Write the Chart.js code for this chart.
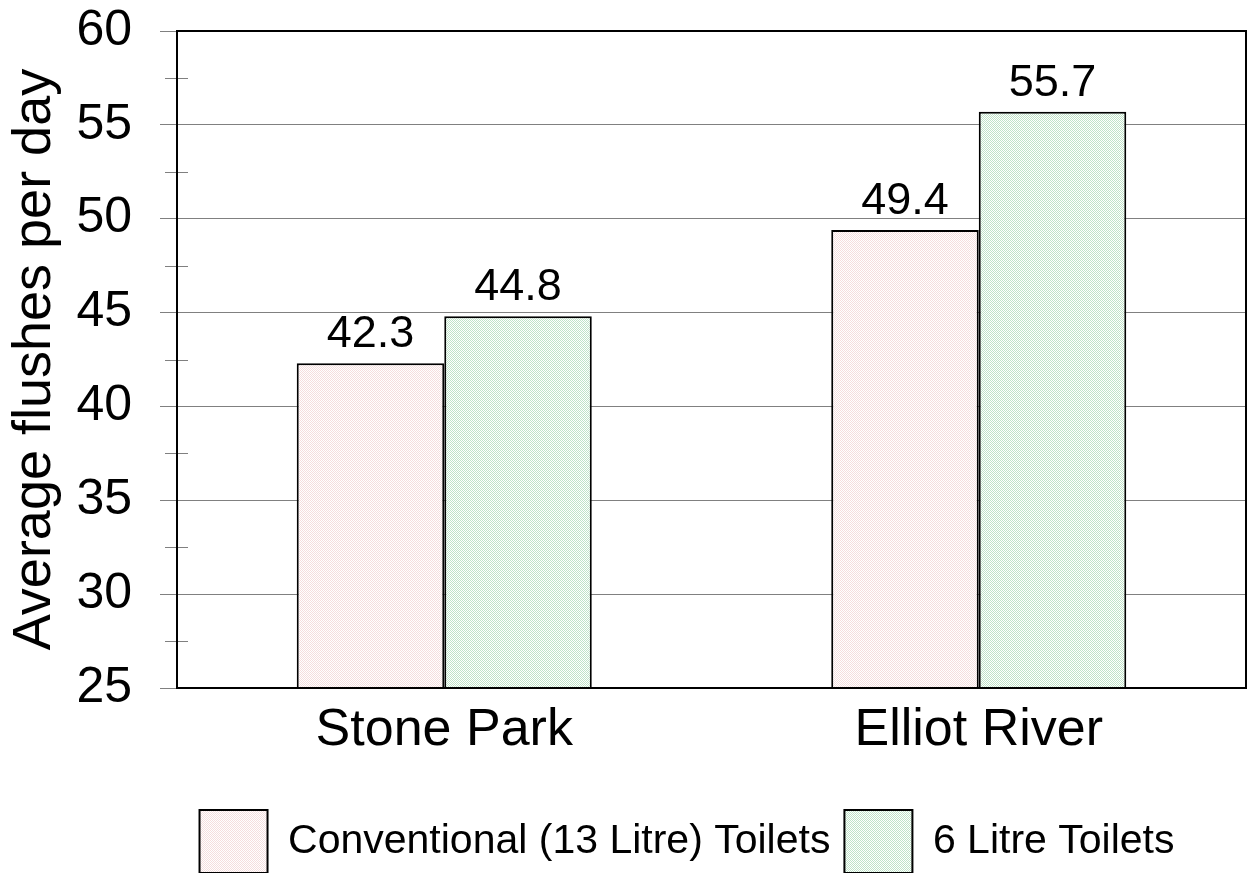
<!DOCTYPE html>
<html>
<head>
<meta charset="utf-8">
<script src="https://cdn.jsdelivr.net/npm/chart.js@4"></script>
<style>
  body { margin: 0; background: #fff; }
  canvas { display: block; }
</style>
</head>
<body>
<canvas id="flushChart" width="1249" height="873"></canvas>
<script>
// Average flushes per day, by site and toilet type
const sites = ["Stone Park", "Elliot River"];
const conventionalFlushes = [42.3, 49.4];
const sixLitreFlushes = [44.8, 55.7];
const seriesNames = ["Conventional (13 Litre) Toilets", "6 Litre Toilets"];

const fontFamily = "'Liberation Sans', Arial, sans-serif";

// small checker fill so the bars look stippled
function stipple(dot) {
    let tile = document.createElement("canvas");
    tile.width = 2;
    tile.height = 2;
    let g = tile.getContext("2d");
    g.fillStyle = "#ffffff";
    g.fillRect(0, 0, 2, 2);
    g.fillStyle = dot;
    g.fillRect(0, 0, 1, 1);
    g.fillRect(1, 1, 1, 1);
    return g.createPattern(tile, "repeat");
}

// value labels above each bar
const barValues = {
    id: "barValues",
    afterDatasetsDraw(chart) {
        const ctx = chart.ctx;
        ctx.save();
        ctx.font = "45px " + fontFamily;
        ctx.fillStyle = "#000";
        ctx.textAlign = "center";
        ctx.textBaseline = "alphabetic";
        chart.data.datasets.forEach((ds, i) => {
            chart.getDatasetMeta(i).data.forEach((bar, j) => {
                ctx.fillText(ds.data[j].toFixed(1), bar.x, bar.y - 16);
            });
        });
        ctx.restore();
    }
};

// frame round the plot, minor ticks across the value axis, legend nudge
const plotFrame = {
    id: "plotFrame",
    afterLayout(chart) {
        chart.legend.left += 64;
        chart.legend.right += 64;
    },
    afterDraw(chart) {
        const ctx = chart.ctx;
        const area = chart.chartArea;
        const y = chart.scales.y;
        ctx.save();
        ctx.strokeStyle = "#808080";
        ctx.lineWidth = 1;
        y.ticks.forEach(t => {
            if (t.value % 5 !== 0) {
                const py = Math.round(y.getPixelForValue(t.value)) + 0.5;
                ctx.beginPath();
                ctx.moveTo(area.left - 12, py);
                ctx.lineTo(area.left + 11, py);
                ctx.stroke();
            }
        });
        ctx.strokeStyle = "#000";
        ctx.lineWidth = 2;
        ctx.strokeRect(area.left, area.top, area.right - area.left, area.bottom - area.top);
        ctx.restore();
    }
};

let flushCtx = document.getElementById("flushChart").getContext("2d");
let flushChart = new Chart(flushCtx, {
    type: "bar",
    data: {
        labels: sites,
        datasets: [
            {
                label: seriesNames[0],
                data: conventionalFlushes,
                backgroundColor: stipple("#f5dede"),
                borderColor: "#000",
                borderWidth: 2
            },
            {
                label: seriesNames[1],
                data: sixLitreFlushes,
                backgroundColor: stipple("#bfe3c8"),
                borderColor: "#000",
                borderWidth: 2
            }
        ]
    },
    options: {
        responsive: false,
        animation: false,
        devicePixelRatio: 1,
        layout: {
            padding: { left: 0, right: 3, top: 31, bottom: -10 }
        },
        datasets: {
            bar: {
                categoryPercentage: 0.552,
                barPercentage: 1
            }
        },
        scales: {
            x: {
                grid: { display: false },
                border: { display: false },
                ticks: {
                    color: "#000",
                    padding: 3,
                    font: { family: fontFamily, size: 52 }
                },
                afterFit(scale) {
                    scale.height = 108;
                }
            },
            y: {
                min: 25,
                max: 60,
                border: { color: "#000", width: 2 },
                grid: {
                    color: c => (c.tick && c.tick.value % 5 === 0) ? "#808080" : "rgba(0,0,0,0)",
                    tickColor: c => (c.tick && c.tick.value % 5 === 0) ? "#808080" : "rgba(0,0,0,0)",
                    tickLength: 17,
                    lineWidth: 1
                },
                ticks: {
                    stepSize: 2.5,
                    autoSkip: false,
                    color: "#000",
                    padding: 28,
                    font: { family: fontFamily, size: 50 },
                    callback: v => (v % 5 === 0 ? String(v) : "")
                },
                title: {
                    display: true,
                    text: "Average flushes per day",
                    color: "#000",
                    padding: { top: 3, bottom: 0 },
                    font: { family: fontFamily, size: 54 }
                },
                afterFit(scale) {
                    scale.width = 177;
                    scale.paddingTop = 0;
                    scale.paddingBottom = 0;
                }
            }
        },
        plugins: {
            legend: {
                position: "bottom",
                labels: {
                    color: "#000",
                    boxWidth: 68,
                    boxHeight: 63,
                    padding: 14,
                    font: { family: fontFamily, size: 41 }
                }
            },
            tooltip: { enabled: false }
        }
    },
    plugins: [barValues, plotFrame]
});
</script>
</body>
</html>
